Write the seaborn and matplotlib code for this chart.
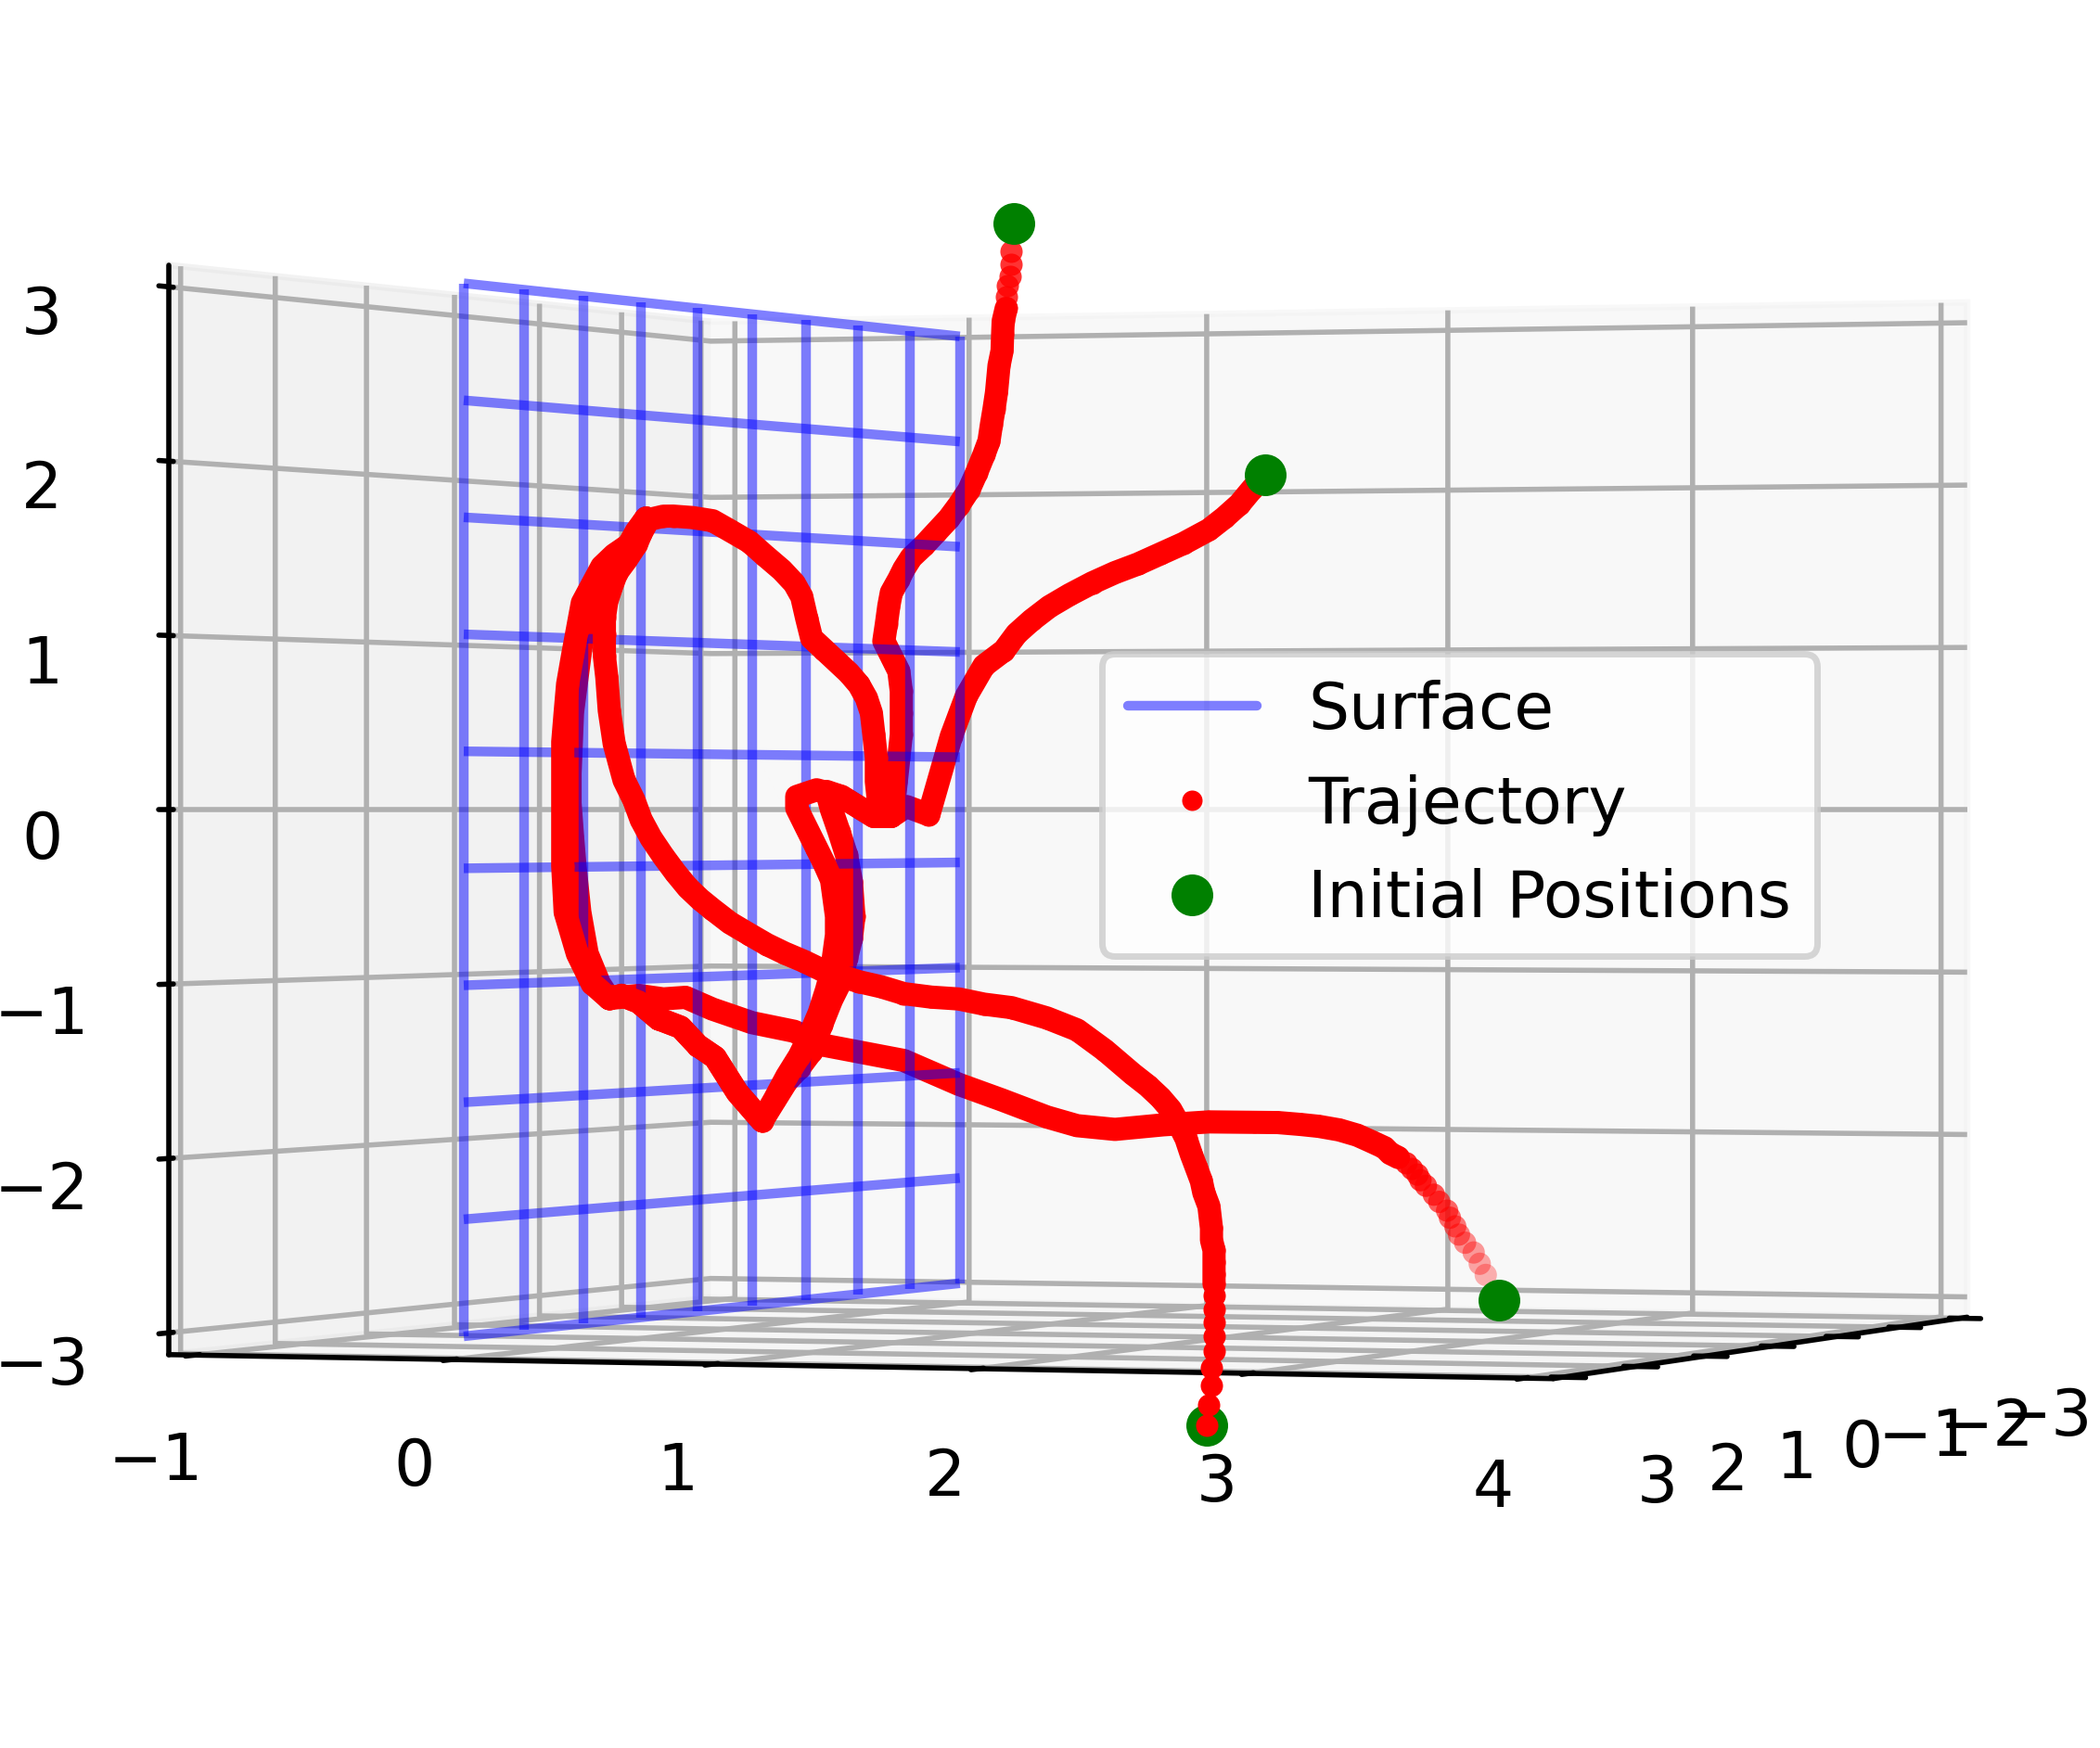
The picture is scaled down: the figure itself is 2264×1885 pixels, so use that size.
import numpy as np
import seaborn as sns
import matplotlib
matplotlib.use("Agg")
import matplotlib.pyplot as plt
from matplotlib.lines import Line2D

sns.set_theme(style="white", rc={"font.size": 10, "axes.edgecolor": "black", "text.color": "black",
    "xtick.color": "black", "ytick.color": "black",
    "grid.color": "#b0b0b0", "grid.linewidth": 0.8, "axes.linewidth": 0.8,
    "xtick.major.width": 0.8, "ytick.major.width": 0.8,
    "xtick.labelsize": 10, "ytick.labelsize": 10, "legend.fontsize": 10, "legend.frameon": True})
plt.rcParams['font.family'] = ['DejaVu Sans']

# Trajectories
x_a = [-1.8,-1.6,-1.4,-1.2,-1.0,-0.8,-0.6,-0.4,-0.2] + [0.0]*28
y_a = [0.59,0.65,0.71,0.76,0.82,0.88,0.93,0.99,1.05,1.10,1.09,1.08,1.07,1.06,1.04,1.01,0.98,
       0.94,0.90,0.85,0.80,0.75,0.72,0.70,0.67,0.66,0.65,0.64,0.67,0.70,0.71,0.71,0.71,0.70,
       0.69,0.68,0.67]
z_a = [3.45,3.36,3.27,3.20,3.12,3.04,2.95,2.86,2.75,2.65,2.49,2.39,2.30,2.20,2.12,2.01,1.91,
       1.82,1.74,1.66,1.58,1.51,1.44,1.38,1.30,1.22,1.11,1.01,0.92,0.83,0.71,0.58,0.45,0.31,
       0.17,0.03,-0.04]

x_b = [0.0]*58
y_b = [2.15,2.10,2.05,1.99,1.93,1.83,1.74,1.65,1.56,1.47,1.38,1.30,1.23,1.17,1.12,1.04,0.97,
       0.91,0.82,0.73,0.67,0.60,0.47,0.41,0.43,0.46,0.49,0.51,0.52,0.51,0.49,0.47,0.43,0.39,
       0.35,0.30,0.25,0.15,0.05,-0.04,-0.11,-0.18,-0.27,-0.35,-0.42,-0.47,-0.53,-0.58,-0.62,-0.64,-0.65,
       -0.65,-0.64,-0.61,-0.57,-0.49,-0.39,-0.32]
z_b = [1.98,1.90,1.81,1.73,1.66,1.58,1.52,1.46,1.41,1.35,1.28,1.21,1.13,1.05,0.95,0.86,0.68,
       0.44,-0.03,0.02,-0.04,-0.04,0.08,0.11,0.00,-0.13,-0.27,-0.43,-0.64,-0.77,-0.89,-1.02,-1.14,-1.29,
       -1.45,-1.55,-1.63,-1.87,-1.70,-1.49,-1.42,-1.31,-1.26,-1.16,-1.12,-1.14,-1.05,-0.87,-0.62,-0.34,-0.16,
       0.22,0.59,0.93,1.25,1.47,1.60,1.76]

x_c = [0.0]*134
y_c = [1.92,1.93,1.94,1.94,1.95,1.95,1.95,1.95,1.95,1.95,1.95,1.95,1.95,1.94,1.94,1.93,1.91,
       1.90,1.88,1.86,1.84,1.81,1.78,1.74,1.69,1.63,1.52,1.41,1.29,1.15,1.04,0.94,0.83,0.72,
       0.63,0.54,0.39,0.32,0.24,0.17,0.10,0.02,-0.05,-0.10,-0.15,-0.20,-0.25,-0.30,-0.34,-0.37,-0.41,
       -0.43,-0.45,-0.47,-0.48,-0.49,-0.49,-0.49,-0.48,-0.46,-0.44,-0.40,-0.36,-0.34,-0.31,-0.25,-0.21,-0.13,
       -0.05,0.02,0.10,0.16,0.23,0.28,0.31,0.33,0.35,0.40,0.45,0.50,0.54,0.57,0.59,0.60,0.61,
       0.61,0.62,0.60,0.47,0.37,0.29,0.29,0.37,0.40,0.43,0.44,0.45,0.45,0.44,0.43,0.41,0.38,
       0.34,0.30,0.25,0.20,0.15,0.05,-0.04,-0.11,-0.18,-0.27,-0.35,-0.42,-0.47,-0.54,-0.60,-0.65,-0.66,
       -0.66,-0.66,-0.66,-0.66,-0.65,-0.64,-0.62,-0.60,-0.58,-0.54,-0.50,-0.45,-0.39,-0.36,-0.32]
z_c = [-3.65,-3.53,-3.41,-3.31,-3.21,-3.12,-3.04,-2.96,-2.88,-2.81,-2.75,-2.68,-2.61,-2.55,-2.48,-2.35,-2.27,
       -2.20,-2.12,-2.04,-1.95,-1.86,-1.78,-1.71,-1.64,-1.57,-1.43,-1.31,-1.24,-1.18,-1.16,-1.13,-1.12,-1.10,
       -1.06,-1.03,-0.96,-0.91,-0.86,-0.81,-0.75,-0.68,-0.60,-0.54,-0.47,-0.38,-0.28,-0.17,-0.06,0.06,0.18,
       0.29,0.40,0.60,0.80,0.93,1.06,1.16,1.26,1.35,1.43,1.51,1.60,1.67,1.75,1.77,1.77,1.76,
       1.74,1.68,1.61,1.53,1.44,1.36,1.28,1.15,1.03,0.96,0.89,0.82,0.75,0.67,0.58,0.45,0.31,
       0.17,0.03,-0.04,0.08,0.12,0.08,0.01,-0.23,-0.32,-0.42,-0.53,-0.64,-0.75,-0.86,-0.97,-1.08,-1.22,
       -1.36,-1.48,-1.60,-1.74,-1.87,-1.70,-1.49,-1.42,-1.31,-1.26,-1.16,-1.12,-1.14,-1.05,-0.87,-0.62,-0.34,
       -0.16,0.04,0.22,0.41,0.59,0.76,0.93,1.09,1.25,1.36,1.47,1.54,1.60,1.68,1.76]

x_d = [-3.0,-2.8,-2.6,-2.4,-2.2,-2.0,-1.85,-1.7,-1.55,-1.4,-1.25,-1.1,-0.95,-0.8,-0.65,-0.5,-0.35,-0.2] + [0.0]*36
y_d = [2.19,2.22,2.25,2.27,2.30,2.34,2.36,2.39,2.40,2.42,2.43,2.45,2.48,2.50,2.52,2.53,2.54,
       2.56,2.57,2.51,2.44,2.36,2.29,2.20,2.11,1.93,1.75,1.56,1.41,1.29,1.11,0.94,0.72,0.39,
       0.28,0.11,-0.05,-0.16,-0.25,-0.35,-0.47,-0.51,-0.56,-0.59,-0.61,-0.62,-0.63,-0.63,-0.62,-0.59,-0.56,
       -0.49,-0.39,-0.32]
z_d = [-2.90,-2.82,-2.74,-2.67,-2.61,-2.55,-2.49,-2.44,-2.38,-2.33,-2.27,-2.23,-2.19,-2.15,-2.11,-2.07,-2.04,
       -2.00,-1.96,-1.92,-1.89,-1.87,-1.86,-1.85,-1.85,-1.85,-1.87,-1.90,-1.88,-1.83,-1.73,-1.64,-1.50,-1.41,
       -1.33,-1.28,-1.20,-1.13,-1.14,-1.12,-1.14,-1.05,-0.87,-0.62,-0.34,-0.16,0.04,0.22,0.59,0.93,1.25,
       1.47,1.60,1.76]

x_init = [-2.0, 0.0, -3.2, 0.0]
y_init = [0.54, 2.15, 2.19, 1.92]
z_init = [3.64, 1.98, -3.07, -3.65]

surf_x = np.linspace(-3, 3, 10)
surf_z = np.linspace(-3, 3, 10)
x_ticks = [-3, -2, -1, 0, 1, 2, 3]
y_ticks = [-1, 0, 1, 2, 3, 4]
z_ticks = [-3, -2, -1, 0, 1, 2, 3]

fig = plt.figure(figsize=(2264/500, 1885/500), dpi=500)
L, cx, cy = 2348, 1154, 905
ax = fig.add_axes([(cx-L/2)/2264, (1885-cy-L/2)/1885, L/2264, L/1885], projection="3d")
ax.computed_zorder = False
ax.set_xlim(-3.125, 3.125)
ax.set_ylim(-1.1042, 4.1042)
ax.set_zlim(-3.125, 3.125)
ax.set_xticks(x_ticks)
ax.set_yticks(y_ticks)
ax.set_zticks(z_ticks)
ax.view_init(elev=0, azim=20)

# Surface plane at y = 0
X, Z = np.meshgrid(surf_x, surf_z)
ax.plot_wireframe(X, np.zeros_like(X), Z, color="blue", alpha=0.5, linewidth=1.5, zorder=2)

# Line starts after the loose dots at the head of each trajectory
for x, y, z, start, zo, shade, al in [(x_a, y_a, z_a, 5, 1, False, 0.8),
                                      (x_b, y_b, z_b, 0, 1, False, None),
                                      (x_d, y_d, z_d, 15, 1, True, None),
                                      (x_c, y_c, z_c, 9, 4, False, None)]:
    ax.plot(x[start:], y[start:], z[start:], color="red", lw=3.6, solid_joinstyle="round", zorder=zo)
    ax.scatter(x, y, z, color="red", s=12, linewidths=0, depthshade=shade, alpha=al, zorder=zo)
ax.scatter(x_init, y_init, z_init, color="green", s=42, linewidths=0, depthshade=False, zorder=3)

handles = [Line2D([], [], color="blue", alpha=0.5, lw=1.5, label="Surface"),
           Line2D([], [], color="red", marker="o", ls="none", ms=3.17, mew=0, label="Trajectory"),
           Line2D([], [], color="green", marker="o", ls="none", ms=6.48, mew=0, label="Initial Positions")]
ax.legend(handles=handles, loc="upper left", bbox_to_anchor=(1188/2264, 1-705/1885),
          bbox_transform=fig.transFigure, borderaxespad=0)
fig.savefig("out.png", dpi=500)
